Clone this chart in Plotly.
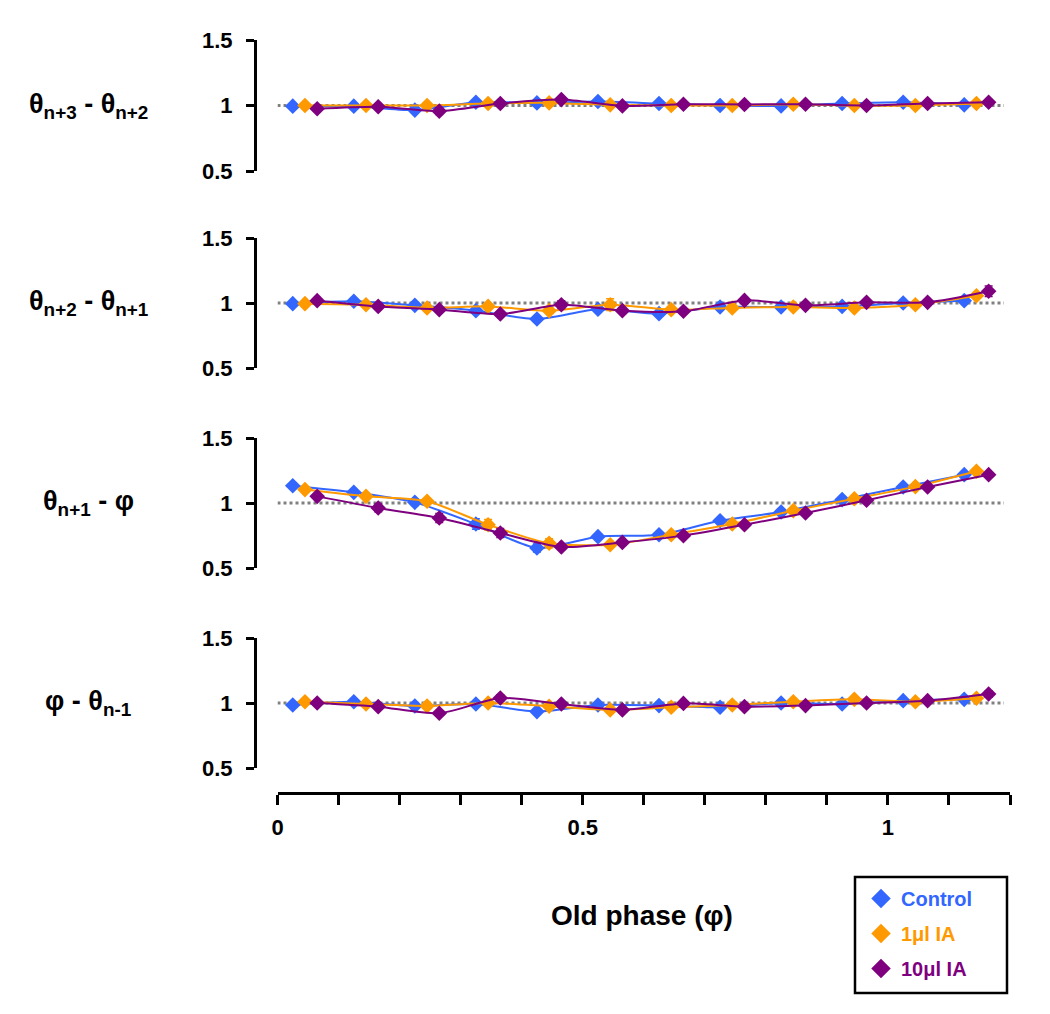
import plotly.graph_objects as go

# ---------------- data ----------------
x_control = [0.025, 0.125, 0.225, 0.325, 0.425, 0.525, 0.625, 0.725, 0.825, 0.925, 1.025, 1.125]
x_ia1 = [0.045, 0.145, 0.245, 0.345, 0.445, 0.545, 0.645, 0.745, 0.845, 0.945, 1.045, 1.145]
x_ia10 = [0.065, 0.165, 0.265, 0.365, 0.465, 0.565, 0.665, 0.765, 0.865, 0.965, 1.065, 1.165]

panel_labels = [
    "<b>θ<sub>n+3</sub> - θ<sub>n+2</sub></b>",
    "<b>θ<sub>n+2</sub> - θ<sub>n+1</sub></b>",
    "<b>θ<sub>n+1</sub> - φ</b>",
    "<b>φ - θ<sub>n-1</sub></b>",
]

# panel 1: theta n+3 - theta n+2
ctrl_1 = [0.995, 0.995, 0.965, 1.025, 1.02, 1.03, 1.015, 1.0, 0.997, 1.015, 1.025, 1.005]
ia1_1 = [1.0, 1.0, 1.0, 1.015, 1.02, 1.005, 1.0, 1.0, 1.01, 1.0, 1.0, 1.015]
ia10_1 = [0.975, 0.99, 0.957, 1.015, 1.045, 0.997, 1.01, 1.008, 1.01, 1.0, 1.015, 1.025]
ctrl_1_err = [0.01, 0.01, 0.01, 0.01, 0.01, 0.01, 0.01, 0.01, 0.01, 0.01, 0.01, 0.01]
ia1_1_err = [0.01, 0.01, 0.01, 0.01, 0.01, 0.01, 0.01, 0.01, 0.01, 0.01, 0.01, 0.01]
ia10_1_err = [0.01, 0.01, 0.025, 0.01, 0.02, 0.01, 0.01, 0.01, 0.01, 0.01, 0.01, 0.01]

# panel 2: theta n+2 - theta n+1
ctrl_2 = [0.995, 1.013, 0.982, 0.941, 0.877, 0.952, 0.918, 0.969, 0.969, 0.974, 1.0, 1.018]
ia1_2 = [0.995, 0.987, 0.962, 0.974, 0.941, 0.987, 0.949, 0.962, 0.969, 0.962, 0.987, 1.056]
ia10_2 = [1.018, 0.974, 0.949, 0.915, 0.987, 0.941, 0.936, 1.02, 0.982, 1.005, 1.005, 1.09]
ctrl_2_err = [0.01, 0.01, 0.01, 0.015, 0.015, 0.015, 0.01, 0.01, 0.01, 0.01, 0.01, 0.015]
ia1_2_err = [0.01, 0.01, 0.01, 0.015, 0.02, 0.045, 0.01, 0.01, 0.01, 0.01, 0.01, 0.015]
ia10_2_err = [0.01, 0.01, 0.01, 0.015, 0.03, 0.015, 0.01, 0.015, 0.01, 0.01, 0.01, 0.04]

# panel 3: theta n+1 - phi
ctrl_3 = [1.133, 1.082, 1.005, 0.838, 0.654, 0.741, 0.756, 0.864, 0.931, 1.026, 1.123, 1.218]
ia1_3 = [1.103, 1.051, 1.013, 0.833, 0.69, 0.679, 0.756, 0.838, 0.941, 1.033, 1.126, 1.244]
ia10_3 = [1.051, 0.962, 0.885, 0.769, 0.662, 0.697, 0.749, 0.833, 0.923, 1.021, 1.123, 1.218]
ctrl_3_err = [0.01, 0.015, 0.025, 0.04, 0.03, 0.02, 0.015, 0.015, 0.01, 0.015, 0.015, 0.015]
ia1_3_err = [0.01, 0.015, 0.02, 0.04, 0.035, 0.015, 0.015, 0.015, 0.01, 0.01, 0.01, 0.01]
ia10_3_err = [0.01, 0.03, 0.035, 0.035, 0.02, 0.02, 0.01, 0.015, 0.01, 0.015, 0.015, 0.01]

# panel 4: phi - theta n-1
ctrl_4 = [0.985, 1.01, 0.977, 0.992, 0.934, 0.985, 0.98, 0.967, 1.0, 0.992, 1.018, 1.028]
ia1_4 = [1.01, 0.992, 0.977, 1.0, 0.975, 0.947, 0.967, 0.985, 1.01, 1.028, 1.01, 1.036]
ia10_4 = [1.0, 0.972, 0.921, 1.038, 0.992, 0.947, 0.997, 0.972, 0.98, 1.0, 1.018, 1.069]
ctrl_4_err = [0.01, 0.01, 0.01, 0.01, 0.015, 0.01, 0.01, 0.01, 0.01, 0.01, 0.01, 0.01]
ia1_4_err = [0.01, 0.01, 0.01, 0.01, 0.015, 0.01, 0.01, 0.01, 0.01, 0.01, 0.01, 0.01]
ia10_4_err = [0.01, 0.015, 0.02, 0.025, 0.015, 0.01, 0.01, 0.01, 0.01, 0.01, 0.01, 0.025]

series_names = ["Control", "1μl IA", "10μl IA"]
series_colors = ["#3366FF", "#FF9900", "#7F007F"]

x_tick_vals = [0, 0.1, 0.2, 0.3, 0.4, 0.5, 0.6, 0.7, 0.8, 0.9, 1.0, 1.1, 1.2]
x_tick_text = ["0", "", "", "", "", "0.5", "", "", "", "", "1", "", ""]
y_tick_vals = [0.5, 1, 1.5]
y_tick_text = ["0.5", "1", "1.5"]

panels = [
    (ctrl_1, ia1_1, ia10_1, ctrl_1_err, ia1_1_err, ia10_1_err),
    (ctrl_2, ia1_2, ia10_2, ctrl_2_err, ia1_2_err, ia10_2_err),
    (ctrl_3, ia1_3, ia10_3, ctrl_3_err, ia1_3_err, ia10_3_err),
    (ctrl_4, ia1_4, ia10_4, ctrl_4_err, ia1_4_err, ia10_4_err),
]

# ---------------- layout geometry ----------------
W, H = 1050, 1014
FONT = "Liberation Sans, Arial, sans-serif"
panel_px = [(40, 171), (238, 368), (438, 568), (638, 768)]
x_left_px, x_right_px = 277.5, 1010
yaxis_px = 255
xaxis_px = 793

def py(p):
    return 1 - p / H

fig = go.Figure()
layout = dict(
    width=W, height=H,
    margin=dict(l=0, r=0, t=0, b=0, autoexpand=False),
    paper_bgcolor="white", plot_bgcolor="rgba(0,0,0,0)",
    font=dict(family=FONT, color="black"),
    showlegend=True,
)

xs = [x_control, x_ia1, x_ia10]
annotations = []
for i, (top, bot) in enumerate(panel_px):
    k = i + 1
    xa = "x" if k == 1 else f"x{k}"
    ya = "y" if k == 1 else f"y{k}"
    xkey = "xaxis" if k == 1 else f"xaxis{k}"
    ykey = "yaxis" if k == 1 else f"yaxis{k}"
    is_bottom = (k == 4)
    xcfg = dict(
        domain=[x_left_px / W, x_right_px / W],
        range=[0, 1.2],
        anchor="free" if is_bottom else ya,
        visible=is_bottom,
        automargin=False,
        showgrid=False, zeroline=False,
        showline=is_bottom, linecolor="black", linewidth=3,
        tickmode="array", tickvals=x_tick_vals, ticktext=x_tick_text,
        ticks="outside", ticklen=10, tickwidth=2.5, tickcolor="black",
        tickfont=dict(family=FONT, size=22, weight="bold", color="black"),
        ticklabelstandoff=4,
        fixedrange=True,
    )
    if is_bottom:
        xcfg["position"] = py(xaxis_px)
    layout[xkey] = xcfg
    layout[ykey] = dict(
        domain=[py(bot), py(top)],
        range=[0.5, 1.5],
        anchor="free", position=yaxis_px / W,
        automargin=False,
        showgrid=False, zeroline=False,
        showline=True, linecolor="black", linewidth=3,
        tickmode="array", tickvals=y_tick_vals, ticktext=y_tick_text,
        ticks="outside", ticklen=8, tickwidth=3, tickcolor="black",
        tickfont=dict(family=FONT, size=22, weight="bold", color="black"),
        ticklabelstandoff=9,
        fixedrange=True,
    )
    # reference dotted line at 1
    fig.add_trace(go.Scatter(
        x=[0, 1.19], y=[1, 1], mode="lines", xaxis=xa, yaxis=ya,
        line=dict(color="#808080", width=3, dash="dot"),
        showlegend=False, hoverinfo="skip",
    ))
    data = panels[i]
    for s in range(3):
        fig.add_trace(go.Scatter(
            x=xs[s], y=data[s], xaxis=xa, yaxis=ya,
            mode="lines+markers",
            name=series_names[s],
            showlegend=False,
            line=dict(color=series_colors[s], width=2, shape="spline", smoothing=0.7),
            marker=dict(symbol="diamond", size=12, color=series_colors[s]),
            error_y=dict(type="data", array=data[3 + s], visible=True,
                         color=series_colors[s], thickness=1.5, width=4),
        ))
    ycenter = (panel_px[i][0] + panel_px[i][1]) / 2
    annotations.append(dict(
        text=panel_labels[i], xref="paper", yref="paper",
        x=88 / W, y=py(ycenter), xanchor="center", yanchor="middle",
        showarrow=False, font=dict(family=FONT, size=27, color="black"),
    ))

# legend-only entries (diamond markers only)
for s in range(3):
    fig.add_trace(go.Scatter(
        x=[None], y=[None], xaxis="x", yaxis="y", mode="markers",
        name=f"<span style='color:{series_colors[s]}'><b>{series_names[s]}</b></span>",
        legendgroup=series_names[s],
        marker=dict(symbol="diamond", size=15, color=series_colors[s]),
        showlegend=True,
    ))

# x-axis title
annotations.append(dict(
    text="<b>Old phase (φ)</b>", xref="paper", yref="paper",
    x=642 / W, y=py(915), xanchor="center", yanchor="middle",
    showarrow=False, font=dict(family=FONT, size=28, color="black"),
))

layout["annotations"] = annotations
layout["shapes"] = [dict(
    type="rect", xref="paper", yref="paper",
    x0=855 / W, x1=1007 / W, y0=py(993), y1=py(877),
    line=dict(color="black", width=2.5), fillcolor="white", layer="below",
)]
layout["legend"] = dict(
    x=861 / W, y=py(879), xanchor="left", yanchor="top",
    borderwidth=0, bgcolor="rgba(0,0,0,0)",
    font=dict(family=FONT, size=20, color="black"),
    tracegroupgap=6, itemsizing="trace",
)
fig.update_layout(**layout)
fig.write_html("out.html", config={"displayModeBar": False},
               post_script="document.body.style.margin='0px';")
